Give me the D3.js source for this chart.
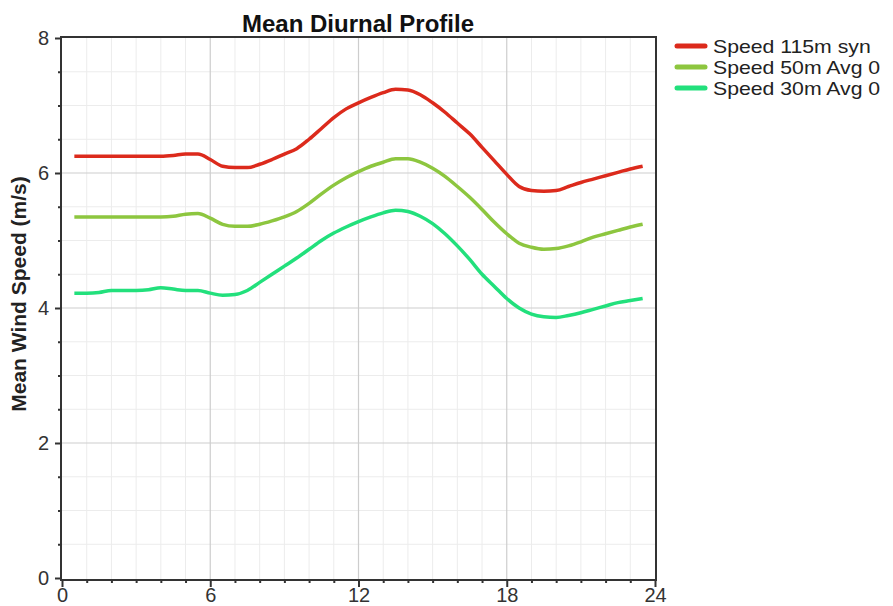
<!DOCTYPE html>
<html>
<head>
<meta charset="utf-8">
<script src="https://cdn.jsdelivr.net/npm/d3@7"></script>
<style>
  html, body { margin: 0; padding: 0; background: #fff; }
  svg { display: block; font-family: "Liberation Sans", Arial, sans-serif; }
</style>
</head>
<body>
<svg id="chart" width="893" height="606"></svg>
<script>
// ---- data ----
const hours = [0.5,1,1.5,2,2.5,3,3.5,4,4.5,5,5.5,6,6.5,7,7.5,8,8.5,9,9.5,10,10.5,11,11.5,12,12.5,13,13.5,14,14.5,15,15.5,16,16.5,17,17.5,18,18.5,19,19.5,20,20.5,21,21.5,22,22.5,23,23.5];
const speed115 = [6.25,6.25,6.25,6.25,6.25,6.25,6.25,6.25,6.26,6.28,6.28,6.20,6.10,6.08,6.08,6.13,6.20,6.28,6.36,6.50,6.66,6.82,6.95,7.04,7.12,7.19,7.24,7.23,7.16,7.04,6.90,6.74,6.58,6.38,6.18,5.98,5.80,5.74,5.73,5.74,5.80,5.86,5.91,5.96,6.01,6.06,6.10];
const speed50 = [5.35,5.35,5.35,5.35,5.35,5.35,5.35,5.35,5.36,5.39,5.40,5.33,5.24,5.21,5.21,5.24,5.29,5.35,5.43,5.55,5.69,5.82,5.93,6.02,6.10,6.16,6.21,6.21,6.16,6.07,5.95,5.80,5.64,5.46,5.27,5.10,4.96,4.90,4.87,4.88,4.92,4.98,5.05,5.10,5.15,5.20,5.24];
const speed30 = [4.22,4.22,4.23,4.26,4.26,4.26,4.27,4.30,4.28,4.26,4.26,4.22,4.19,4.20,4.26,4.38,4.50,4.62,4.74,4.87,5.00,5.11,5.20,5.28,5.35,5.41,5.45,5.43,5.36,5.25,5.10,4.92,4.72,4.50,4.32,4.14,4.00,3.91,3.87,3.86,3.89,3.93,3.98,4.03,4.08,4.11,4.14];
const seriesNames = ["Speed 115m syn", "Speed 50m Avg 0", "Speed 30m Avg 0"];
const seriesColors = ["#dc2a1c", "#8dc63f", "#22e07c"];
const xTicks = [0, 6, 12, 18, 24];
const yTicks = [0, 2, 4, 6, 8];
const title = "Mean Diurnal Profile";
const yLabel = "Mean Wind Speed (m/s)";

const allSeries = [speed115, speed50, speed30];

// ---- layout ----
const svg = d3.select("#chart");
const L = 61, R = 655, T = 38, B = 578;
const x = d3.scaleLinear().domain([0, 24]).range([L + 1, R]);
const y = d3.scaleLinear().domain([0, 8]).range([B, T]);

// minor grid
const g = svg.append("g");
g.selectAll(".vminor").data(d3.range(1, 24).filter(h => h % 6 !== 0)).join("line")
  .attr("x1", d => x(d)).attr("x2", d => x(d)).attr("y1", T).attr("y2", B + 2)
  .attr("stroke", "#ececec").attr("stroke-width", 1);
g.selectAll(".hminor").data(d3.range(0.5, 8, 0.5).filter(v => v % 2 !== 0)).join("line")
  .attr("x1", L).attr("x2", R).attr("y1", d => y(d)).attr("y2", d => y(d))
  .attr("stroke", "#ececec").attr("stroke-width", 1);
// major grid
g.selectAll(".vmajor").data(xTicks.filter(d => d > 0 && d < 24)).join("line")
  .attr("x1", d => x(d)).attr("x2", d => x(d)).attr("y1", T).attr("y2", B + 2)
  .attr("stroke", "#cdcdcd").attr("stroke-width", 1.2);
g.selectAll(".hmajor").data(yTicks.filter(d => d > 0 && d < 8)).join("line")
  .attr("x1", L).attr("x2", R).attr("y1", d => y(d)).attr("y2", d => y(d))
  .attr("stroke", "#cdcdcd").attr("stroke-width", 1.2);

// frame
svg.append("rect").attr("x", L).attr("y", T - 1).attr("width", R + 1 - L).attr("height", B + 2 - (T - 1))
  .attr("fill", "none").attr("stroke", "#333").attr("stroke-width", 2);

// axes with D3
const yAxis = d3.axisLeft(y).tickValues(yTicks).tickSize(6).tickPadding(6).tickFormat(d3.format("d"));
svg.append("g").attr("transform", `translate(${L},0)`).call(yAxis);
const yMinor = d3.axisLeft(y).tickValues(d3.range(0.5, 8, 0.5).filter(v => v % 2 !== 0)).tickSize(3).tickFormat("");
svg.append("g").attr("transform", `translate(${L},0)`).call(yMinor);

const xAxis = d3.axisBottom(x).tickValues(xTicks).tickSize(7).tickPadding(1).tickFormat(d3.format("d"));
svg.append("g").attr("transform", `translate(0,${B + 2})`).call(xAxis);
const xMinor = d3.axisBottom(x).tickValues(d3.range(1, 24).filter(h => h % 6 !== 0)).tickSize(3).tickFormat("");
svg.append("g").attr("transform", `translate(0,${B + 2})`).call(xMinor);

svg.selectAll(".domain").remove();
svg.selectAll(".tick line").attr("stroke", "#333").attr("stroke-width", 2);
svg.selectAll(".tick text").attr("fill", "#333").style("font-size", "20px").style("font-family", "'Liberation Sans', Arial, sans-serif");

// lines
const line = d3.line().x((d, i) => x(hours[i])).y(d => y(d)).curve(d3.curveMonotoneX);
svg.append("g").selectAll("path").data(allSeries).join("path")
  .attr("d", d => line(d))
  .attr("fill", "none")
  .attr("stroke", (d, i) => seriesColors[i])
  .attr("stroke-width", 3.5)
  .attr("stroke-linejoin", "round");

// title
svg.append("text").attr("x", (L + R) / 2).attr("y", 32).attr("text-anchor", "middle")
  .style("font-size", "24px").style("font-weight", "bold").attr("fill", "#111").text(title);

// y label
svg.append("text").attr("transform", `translate(26,${(T + B) / 2 - 14}) rotate(-90)`)
  .attr("text-anchor", "middle").style("font-size", "21px").style("font-weight", "bold")
  .attr("fill", "#222").text(yLabel);

// legend
const lg = svg.append("g");
const items = lg.selectAll("g").data(seriesNames).join("g")
  .attr("transform", (d, i) => `translate(677,${46 + i * 21})`);
items.append("line").attr("x1", 0).attr("x2", 28).attr("y1", 0).attr("y2", 0)
  .attr("stroke", (d, i) => seriesColors[i]).attr("stroke-width", 5).attr("stroke-linecap", "round");
items.append("text").attr("transform", "translate(36,6.5) scale(1.18,1)")
  .style("font-size", "18px").attr("fill", "#222").text(d => d);
</script>
</body>
</html>
